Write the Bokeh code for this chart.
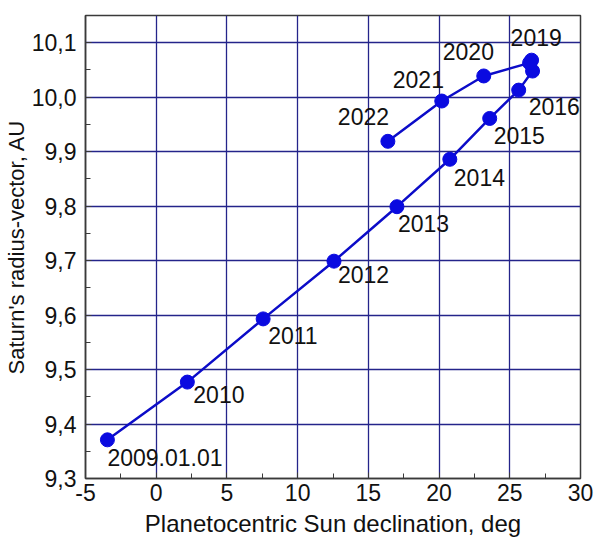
from bokeh.plotting import figure
from bokeh.models import Range1d, FixedTicker, CustomJSTickFormatter, ColumnDataSource
from bokeh.core.properties import value
from bokeh.embed import file_html
from bokeh.resources import INLINE

# Data
years = ["2009.01.01", "2010", "2011", "2012", "2013", "2014", "2015", "2016",
         "2017", "2018", "2019", "2020", "2021", "2022"]
declination = [-3.45, 2.20, 7.56, 12.57, 17.02, 20.76, 23.58, 25.63,
               26.61, 26.54, 26.40, 23.16, 20.19, 16.38]
radius = [9.371, 9.477, 9.593, 9.699, 9.799, 9.886, 9.961, 10.013,
          10.048, 10.068, 10.063, 10.039, 9.993, 9.919]
shown_labels = ["2009.01.01", "2010", "2011", "2012", "2013", "2014", "2015", "2016",
                "", "", "2019", "2020", "2021", "2022"]

x_ticks = [-5, 0, 5, 10, 15, 20, 25, 30]
x_minor = [-2.5, 2.5, 7.5, 12.5, 17.5, 22.5, 27.5]
y_ticks = [9.3, 9.4, 9.5, 9.6, 9.7, 9.8, 9.9, 10.0, 10.1]
y_minor = [9.35, 9.45, 9.55, 9.65, 9.75, 9.85, 9.95, 10.05]

# label offsets (screen px) — style only
dx = [0, 6, 5, 4, 1, 4, 4, 10, 0, 0, -19, -41, -49, -50]
dy = [18, 12, 17, 13, 17, 18, 17, 16, 0, 0, -25, -24, -22, -25]

FONT = "Liberation Sans"
GRID = "#24248a"
FRAME = "#3a3a3a"
BLUE = "#0a0ae0"
LINE = "#0c0cc8"

p = figure(width=594, height=539, x_range=Range1d(-5, 30), y_range=Range1d(9.3, 10.15),
           output_backend="svg", toolbar_location=None,
           min_border_top=15, min_border_right=14, min_border_left=84, min_border_bottom=0)
p.background_fill_color = "white"
p.border_fill_color = "white"
p.outline_line_color = FRAME
p.outline_line_width = 1.5

p.xaxis.ticker = FixedTicker(ticks=x_ticks, minor_ticks=x_minor)
p.yaxis.ticker = FixedTicker(ticks=y_ticks, minor_ticks=y_minor)
p.xaxis.formatter = CustomJSTickFormatter(code="return tick.toFixed(0);")
p.yaxis.formatter = CustomJSTickFormatter(code="return tick.toFixed(1).replace('.', ',');")

for ax in (p.xaxis, p.yaxis):
    ax.axis_line_color = FRAME
    ax.axis_line_width = 1.5
    ax.major_tick_in = 6
    ax.major_tick_out = 0
    ax.minor_tick_in = 5
    ax.minor_tick_out = 0
    ax.major_tick_line_color = FRAME
    ax.minor_tick_line_color = FRAME
    ax.major_label_text_font = FONT
    ax.major_label_text_font_size = "23px"
    ax.major_label_text_color = "#111111"
    ax.axis_label_text_font = FONT
    ax.axis_label_text_font_style = "normal"
    ax.axis_label_text_color = "#111111"

p.xaxis.axis_label_text_font_size = "24px"
p.yaxis.axis_label_text_font_size = "22px"
p.xaxis.major_label_standoff = 5
p.xaxis.axis_label_standoff = 6
p.yaxis.major_label_standoff = 9
p.yaxis.axis_label_standoff = 0
p.xaxis.axis_label = "Planetocentric Sun declination, deg"
p.yaxis.axis_label = "Saturn's radius-vector, AU"

p.xgrid.ticker = FixedTicker(ticks=x_ticks)
p.ygrid.ticker = FixedTicker(ticks=y_ticks)
p.grid.grid_line_color = GRID
p.grid.grid_line_width = 1.3
p.grid.grid_line_alpha = 1.0

src = ColumnDataSource(dict(x=declination, y=radius, label=shown_labels, dx=dx, dy=dy))
p.line("x", "y", source=src, line_color=LINE, line_width=2.5)
p.scatter("x", "y", source=src, size=14, fill_color=BLUE, line_color=BLUE)
p.text("x", "y", text="label", source=src, x_offset="dx", y_offset="dy",
       text_font=value(FONT), text_font_size="23px", text_color="#111111",
       text_align="left", text_baseline="middle")

open("out.html", "w").write(file_html(p, INLINE))
